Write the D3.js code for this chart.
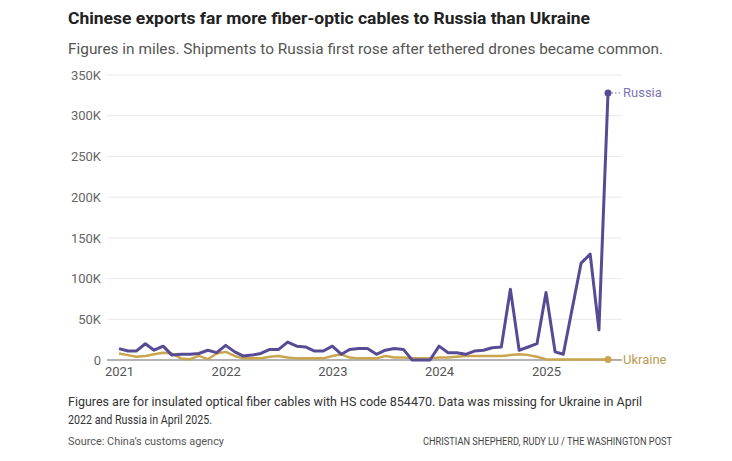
<!DOCTYPE html>
<html>
<head>
<meta charset="utf-8">
<script src="https://cdn.jsdelivr.net/npm/d3@7"></script>
<style>
  body { margin: 0; background: #fff; }
  text { font-family: "Roboto", "Liberation Sans", sans-serif; }
</style>
</head>
<body>
<div id="chart"></div>
<script>
// monthly values, Jan 2021 - Aug 2025, in thousands of miles (null = missing)
var startMonth = "2021-01";
var russia = [
  14, 11, 11, 20, 12, 17, 6, 7, 7, 8, 12, 9,
  18, 10, 5, 6, 8, 13, 13, 22, 17, 16, 11, 11,
  17, 7, 13, 14, 14, 7, 12, 14, 13, 0, 0, 0,
  17, 9, 9, 7, 11, 12, 15, 16, 87, 12, 16, 20,
  83, 10, 7, null, 119, 130, 37, 328
];
var ukraine = [
  8, 6, 4, 5, 7, 9, 8, 2, 1, 5, 1, 8,
  10, 5, 2, null, 2, 4, 5, 3, 2, 2, 2, 2,
  5, 7, 3, 2, 2, 2, 5, 3, 3, 2, 2, 2,
  3, 3, 4, 5, 5, 5, 5, 5, 6, 7, 6, 4,
  1, 0.5, 0.5, 0.5, 0.5, 0.5, 0.5, 0.5
];
var yTicks = [0, 50, 100, 150, 200, 250, 300, 350];
var xTickYears = [2021, 2022, 2023, 2024, 2025];

function init(){
  var w = 732, h = 461;

  var svg = d3.select("#chart").append("svg")
    .attr("width", w)
    .attr("height", h);

  var parseMonth = d3.timeParse("%Y-%m");
  var t0 = parseMonth(startMonth);
  var months = russia.map(function(d, i){ return d3.timeMonth.offset(t0, i); });

  var xScale = d3.scaleTime()
    .domain([months[0], months[months.length - 1]])
    .range([119, 608]);

  var yScale = d3.scaleLinear()
    .domain([0, 350])
    .range([360, 75]);

  // titles
  svg.append("text")
    .attr("x", 68).attr("y", 24)
    .attr("font-size", 17).attr("font-weight", "bold").attr("fill", "#222")
    .attr("textLength", 522).attr("lengthAdjust", "spacingAndGlyphs")
    .text("Chinese exports far more fiber-optic cables to Russia than Ukraine");

  svg.append("text")
    .attr("x", 68).attr("y", 54)
    .attr("font-size", 15).attr("fill", "#555")
    .attr("textLength", 595).attr("lengthAdjust", "spacingAndGlyphs")
    .text("Figures in miles. Shipments to Russia first rose after tethered drones became common.");

  // grid
  var grid = svg.append("g");
  grid.selectAll("line")
    .data(yTicks)
    .enter()
    .append("line")
    .attr("x1", 107).attr("x2", 622)
    .attr("y1", function(d){ return yScale(d); })
    .attr("y2", function(d){ return yScale(d); })
    .attr("stroke", function(d){ return d === 0 ? "#9a9a9a" : "#e8e8e8"; })
    .attr("stroke-width", function(d){ return d === 0 ? 1.5 : 1; });

  // y axis labels
  var yAxis = d3.axisLeft(yScale)
    .tickValues(yTicks)
    .tickSize(0)
    .tickPadding(0)
    .tickFormat(function(d){ return d === 0 ? "0" : d + "K"; });

  var yg = svg.append("g")
    .attr("transform", "translate(101,0)")
    .call(yAxis);
  yg.select(".domain").remove();
  yg.selectAll("text")
    .attr("font-size", 13).attr("fill", "#666")
    .style("font-family", "Roboto, sans-serif");

  // x axis labels
  var xAxis = d3.axisBottom(xScale)
    .tickValues(xTickYears.map(function(y){ return new Date(y, 0, 1); }))
    .tickSize(0)
    .tickPadding(0)
    .tickFormat(d3.timeFormat("%Y"));

  var xg = svg.append("g")
    .attr("transform", "translate(0,367)")
    .call(xAxis);
  xg.select(".domain").remove();
  xg.selectAll("text")
    .attr("font-size", 13).attr("fill", "#555")
    .style("font-family", "Roboto, sans-serif");

  var line = d3.line()
    .x(function(d){ return xScale(d.date); })
    .y(function(d){ return yScale(d.value); });

  function series(values){
    return values.map(function(v, i){ return { date: months[i], value: v }; })
      .filter(function(d){ return d.value !== null; });
  }

  var uk = series(ukraine);
  var ru = series(russia);

  // Ukraine
  svg.append("path")
    .datum(uk)
    .attr("d", line)
    .attr("fill", "none")
    .attr("stroke", "#c9a54e")
    .attr("stroke-width", 2.5)
    .attr("stroke-linejoin", "round");

  // Russia
  svg.append("path")
    .datum(ru)
    .attr("d", line)
    .attr("fill", "none")
    .attr("stroke", "#574c94")
    .attr("stroke-width", 3)
    .attr("stroke-linejoin", "round");

  // end dots + labels
  var ends = [
    { d: ru[ru.length - 1], color: "#574c94", label: "Russia", lc: "#7d74b2" },
    { d: uk[uk.length - 1], color: "#c9a54e", label: "Ukraine", lc: "#b99a52" }
  ];

  ends.forEach(function(e){
    var cx = xScale(e.d.date), cy = yScale(e.d.value);
    svg.append("line")
      .attr("x1", cx).attr("x2", 621)
      .attr("y1", cy).attr("y2", cy)
      .attr("stroke", e.lc)
      .attr("stroke-width", 1)
      .attr("stroke-dasharray", "1.5,2");
    svg.append("circle")
      .attr("cx", cx).attr("cy", cy).attr("r", 3.5)
      .attr("fill", e.color);
    svg.append("text")
      .attr("x", 623).attr("y", cy)
      .attr("dy", "0.35em")
      .attr("font-size", 13)
      .attr("fill", e.lc)
      .text(e.label);
  });

  // notes
  svg.append("text")
    .attr("x", 68).attr("y", 406)
    .attr("font-size", 13).attr("fill", "#333")
    .attr("textLength", 574).attr("lengthAdjust", "spacingAndGlyphs")
    .text("Figures are for insulated optical fiber cables with HS code 854470. Data was missing for Ukraine in April");

  svg.append("text")
    .attr("x", 68).attr("y", 424)
    .attr("font-size", 13).attr("fill", "#333")
    .attr("textLength", 144).attr("lengthAdjust", "spacingAndGlyphs")
    .text("2022 and Russia in April 2025.");

  svg.append("text")
    .attr("x", 68).attr("y", 445)
    .attr("font-size", 11).attr("fill", "#555")
    .attr("textLength", 156).attr("lengthAdjust", "spacingAndGlyphs")
    .text("Source: China\u2019s customs agency");

  svg.append("text")
    .attr("x", 672).attr("y", 445)
    .attr("text-anchor", "end")
    .attr("font-size", 10).attr("fill", "#444")
    .attr("textLength", 249).attr("lengthAdjust", "spacingAndGlyphs")
    .text("CHRISTIAN SHEPHERD, RUDY LU / THE WASHINGTON POST");
}

window.onload = init;
</script>
</body>
</html>
